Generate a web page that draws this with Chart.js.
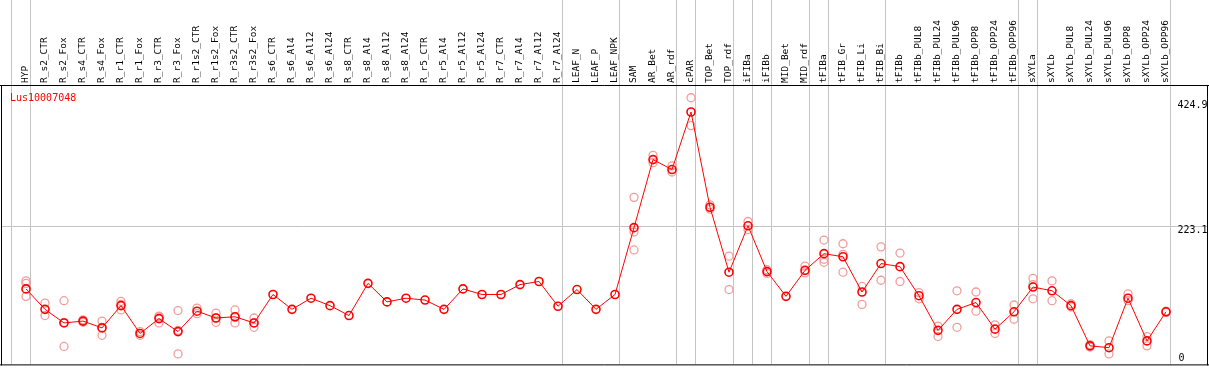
<!DOCTYPE html>
<html>
<head>
<meta charset="utf-8">
<script src="https://cdn.jsdelivr.net/npm/chart.js@4/dist/chart.umd.min.js"></script>
<style>
  html, body { margin: 0; padding: 0; background: #fff; }
  canvas { display: block; }
</style>
</head>
<body>
<canvas id="myChart" width="1209" height="370"></canvas>
<script>
/* global Chart */

const geneId = 'Lus10007048';

const samples = [
  'HYP', 'R_s2_CTR', 'R_s2_Fox', 'R_s4_CTR', 'R_s4_Fox', 'R_r1_CTR', 'R_r1_Fox',
  'R_r3_CTR', 'R_r3_Fox', 'R_r1s2_CTR', 'R_r1s2_Fox', 'R_r3s2_CTR', 'R_r3s2_Fox',
  'R_s6_CTR', 'R_s6_Al4', 'R_s6_Al12', 'R_s6_Al24', 'R_s8_CTR', 'R_s8_Al4',
  'R_s8_Al12', 'R_s8_Al24', 'R_r5_CTR', 'R_r5_Al4', 'R_r5_Al12', 'R_r5_Al24',
  'R_r7_CTR', 'R_r7_Al4', 'R_r7_Al12', 'R_r7_Al24', 'LEAF_N', 'LEAF_P', 'LEAF_NPK',
  'SAM', 'AR_Bet', 'AR_rdf', 'cPAR', 'TOP_Bet', 'TOP_rdf', 'iFIBa', 'iFIBb',
  'MID_Bet', 'MID_rdf', 'tFIBa', 'tFIB_Gr', 'tFIB_Li', 'tFIB_Bi', 'tFIBb',
  'tFIBb_PUL8', 'tFIBb_PUL24', 'tFIBb_PUL96', 'tFIBb_OPP8', 'tFIBb_OPP24', 'tFIBb_OPP96',
  'sXYLa', 'sXYLb', 'sXYLb_PUL8', 'sXYLb_PUL24', 'sXYLb_PUL96', 'sXYLb_OPP8',
  'sXYLb_OPP24', 'sXYLb_OPP96'
];

// mean expression per sample
const means = [
  122, 89, 67, 70, 59, 95, 50, 74, 53, 86, 75, 77, 67,
  113, 89, 107, 95, 79, 131, 101, 107, 104, 89, 122, 113,
  113, 129, 134, 94, 121, 89, 113,
  221, 331, 315, 408, 254, 149, 224, 150,
  110, 152, 179, 174, 117, 163, 158,
  111, 55, 89, 100, 57, 85,
  125, 119, 95, 30, 27, 107, 38, 85
];

// individual replicates (null = none / hidden behind the mean)
const repA = [
  135, 99, 103, 72, 70, 102, 53, 78, 87, 91, 83, 88, 75,
  null, null, null, null, null, null, null, null, null, null, null, null,
  null, null, null, null, null, null, null,
  270, 338, 321, 431, 258, 175, 231, 153,
  null, 159, 201, 195, 126, 190, 180,
  116, 62, 119, 117, 64, 96,
  139, 135, 98, 32, 38, 114, 45, 86
];
const repB = [
  110, 79, 29, 68, 47, 97, 47, 67, 17, 82, 68, 67, 60,
  null, null, null, null, null, null, null, null, null, null, null, null,
  null, null, null, null, null, null, null,
  185, 326, 311, 386, 251, 121, 218, 147,
  null, 148, 165, 149, 97, 136, 134,
  106, 45, 60, 86, 50, 73,
  106, 103, 93, 28, 17, 103, 30, 84
];
const repC = [
  131, null, 68, null, 60, 88, null, 77, 55, null, 75, 76, 67,
  null, null, null, null, null, null, null, null, null, null, null, null,
  null, null, null, null, null, null, null,
  214, null, null, null, null, null, null, null,
  null, null, 170, 178, null, null, null,
  null, null, null, null, null, null,
  129, null, null, null, null, null, null, null
];

const yTicks = [424.9, 223.1, 0];
// index of the last sample of each group
const groupEnds = [0, 28, 31, 34, 35, 37, 38, 39, 41, 42, 45, 52, 53, 60];

const frame = {
  id: 'frame',
  beforeDraw(chart) {
    const ctx = chart.ctx;
    const x = chart.scales.x;
    const y = chart.scales.y;
    const area = chart.chartArea;
    const W = chart.width;
    ctx.save();
    ctx.lineWidth = 1;
    ctx.strokeStyle = '#c4c4c4';
    const seps = [x.getPixelForValue(0) - 15].concat(groupEnds.map(i => x.getPixelForValue(i) + 4));
    seps.forEach(px => {
      const sx = Math.round(px) + 0.5;
      ctx.beginPath();
      ctx.moveTo(sx, 0);
      ctx.lineTo(sx, area.bottom);
      ctx.stroke();
    });
    const gy = Math.round(y.getPixelForValue(yTicks[1])) + 0.5;
    ctx.beginPath();
    ctx.moveTo(1, gy);
    ctx.lineTo(W - 2, gy);
    ctx.stroke();

    ctx.strokeStyle = '#000';
    ctx.beginPath();
    ctx.moveTo(0, area.top - 0.5);
    ctx.lineTo(W, area.top - 0.5);
    ctx.moveTo(1.5, area.top);
    ctx.lineTo(1.5, area.bottom + 1);
    ctx.moveTo(W - 1.5, area.top);
    ctx.lineTo(W - 1.5, area.bottom + 1);
    ctx.moveTo(0, area.bottom + 0.5);
    ctx.lineTo(W, area.bottom + 0.5);
    ctx.stroke();

    ctx.font = '10px "DejaVu Sans Mono"';
    ctx.fillStyle = '#000';
    ctx.textAlign = 'left';
    yTicks.forEach(v => {
      const py = y.getPixelForValue(v);
      if (py > area.bottom - 12) {
        ctx.textBaseline = 'bottom';
        ctx.fillText(String(v), area.right + 3, area.bottom - 1);
      } else {
        ctx.textBaseline = 'top';
        ctx.fillText(String(v), area.right + 2, py - 1);
      }
    });

    ctx.fillStyle = '#ff0000';
    ctx.textBaseline = 'middle';
    ctx.fillText(geneId, 10, area.top + 12);
    ctx.restore();
  }
};

function repSet(data) {
  return {
    data: data,
    showLine: false,
    order: 1,
    pointRadius: 4,
    pointBorderWidth: 1.3,
    pointBorderColor: '#f29c9c',
    pointBackgroundColor: 'rgba(0,0,0,0)'
  };
}

Chart.defaults.font.family = '"DejaVu Sans Mono", monospace';

var ctx = document.getElementById('myChart').getContext('2d');
var myChart = new Chart(ctx, {
  type: 'line',
  data: {
    labels: samples,
    datasets: [
      {
        data: means,
        order: 0,
        borderColor: '#ff0000',
        borderWidth: 1,
        tension: 0,
        pointRadius: 4,
        pointBorderWidth: 1.6,
        pointBorderColor: '#ff0000',
        pointBackgroundColor: 'rgba(0,0,0,0)'
      },
      repSet(repA),
      repSet(repB),
      repSet(repC)
    ]
  },
  options: {
    responsive: false,
    animation: false,
    devicePixelRatio: 1,
    layout: { padding: { left: 16.5, right: 33.5, top: 0, bottom: 1 } },
    plugins: {
      legend: { display: false },
      tooltip: { enabled: false }
    },
    scales: {
      x: {
        position: 'top',
        offset: true,
        grid: { display: false, drawTicks: false },
        border: { display: false },
        ticks: {
          autoSkip: false,
          minRotation: 90,
          maxRotation: 90,
          padding: 3,
          labelOffset: 11,
          color: '#000',
          font: { size: 9.5 }
        },
        afterFit: function (scale) { scale.height = 86; }
      },
      y: {
        display: false,
        min: 0,
        max: 450
      }
    }
  },
  plugins: [frame]
});
</script>
</body>
</html>
